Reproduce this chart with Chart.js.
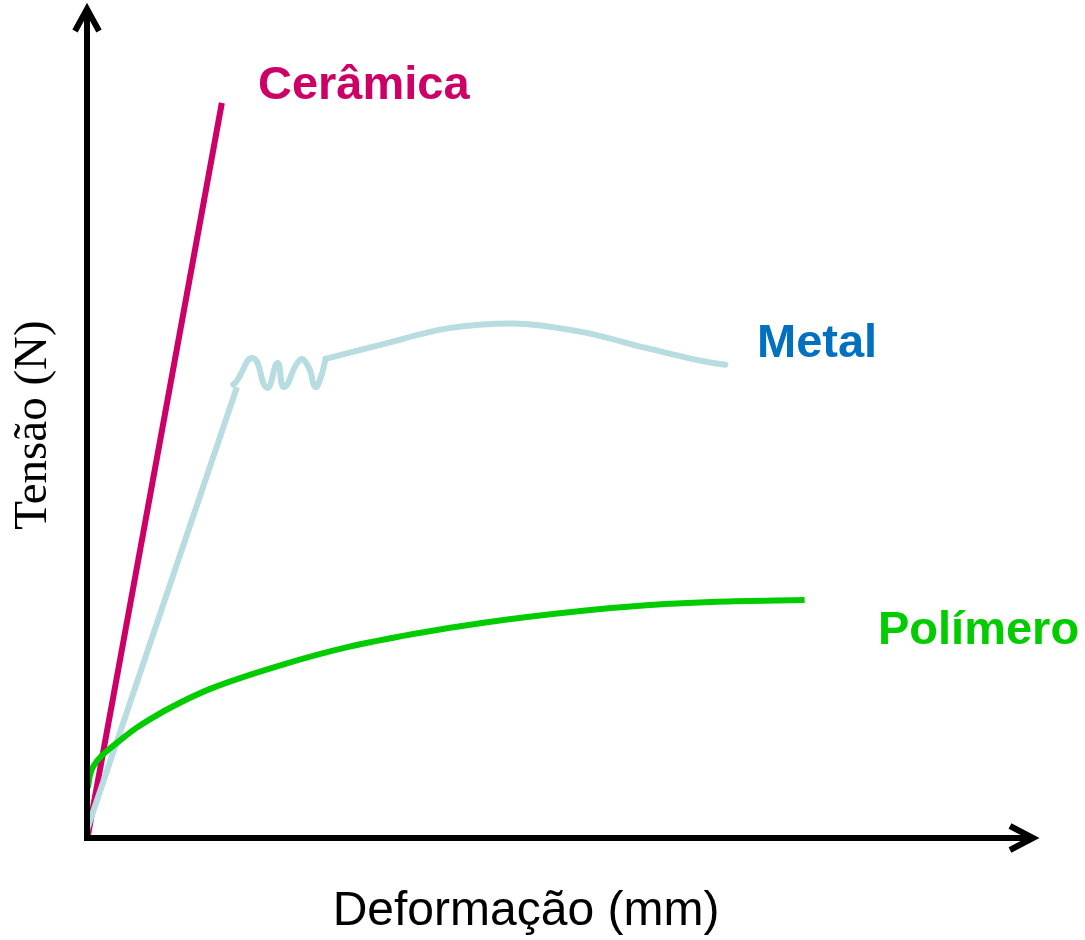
<!DOCTYPE html>
<html>
<head>
<meta charset="utf-8">
<script src="https://cdn.jsdelivr.net/npm/chart.js@4"></script>
<style>
  body { margin: 0; background: #fff; }
  #wrap { width: 1085px; height: 940px; }
</style>
</head>
<body>
<div id="wrap"><canvas id="grafico"></canvas></div>
<script>
// curvas tensão x deformação (unidades arbitrárias, 0-100)
var ceramicaX = [0, 14.3];
var ceramicaY = [-0.3, 89.0];

var metalElasticoX = [0, 15.9];
var metalElasticoY = [1.0, 54.6];

// escoamento (serrilhado)
var metalEscoamentoX = [15.5, 15.8, 17.6, 19.1, 20.2, 20.9, 22.6, 23.5, 24.2, 24.8, 25.3];
var metalEscoamentoY = [54.9, 55.2, 58.1, 54.5, 57.5, 54.6, 57.9, 57.0, 54.6, 55.8, 58.0];

// encruamento / estricção
var metalPlasticoX = [25.3, 31.1, 38.2, 45.2, 52.3, 59.4, 66.4, 67.7];
var metalPlasticoY = [58.0, 59.7, 61.7, 62.3, 61.3, 59.3, 57.5, 57.3];

var polimeroX = [0.1, 0.3, 0.8, 1.6, 2.6, 3.8, 5.2, 6.7, 9.9, 13.4, 20.5, 27.6, 34.6, 41.7, 52.6, 59.7, 66.8, 76.1];
var polimeroY = [6.1, 7.6, 8.9, 10.0, 11.0, 12.1, 13.3, 14.4, 16.4, 18.2, 20.9, 23.1, 24.7, 26.0, 27.5, 28.2, 28.6, 28.8];

function pontos(xs, ys) {
    return xs.map(function (x, i) { return { x: x, y: ys[i] }; });
}

// eixos com setas + textos
var eixosPlugin = {
    id: 'eixos',
    afterDatasetsDraw: function (chart) {
        var c = chart.ctx;
        var a = chart.chartArea;
        var x0 = a.left, y0 = a.bottom;
        c.save();
        c.strokeStyle = '#000';
        c.lineWidth = 6;
        c.lineCap = 'butt';
        c.beginPath();
        c.moveTo(x0, y0 + 3);
        c.lineTo(x0, a.top - 2);
        c.moveTo(x0 - 3, y0);
        c.lineTo(a.right + 3, y0);
        c.stroke();
        // pontas das setas
        c.lineJoin = 'miter';
        c.beginPath();
        c.moveTo(x0 - 12, a.top + 19);
        c.lineTo(x0, a.top - 3);
        c.lineTo(x0 + 12, a.top + 19);
        c.moveTo(a.right - 20, y0 - 12);
        c.lineTo(a.right + 3, y0);
        c.lineTo(a.right - 20, y0 + 12);
        c.stroke();

        // nomes das curvas
        c.font = 'bold 47px "Liberation Sans", Arial, sans-serif';
        c.textBaseline = 'alphabetic';
        c.textAlign = 'left';
        c.fillStyle = '#CC0066';
        c.fillText('Cerâmica', 258, 99);
        c.fillStyle = '#0070C0';
        c.fillText('Metal', 757, 357);
        c.fillStyle = '#00CC00';
        c.fillText('Polímero', 878, 644);

        // títulos dos eixos
        c.fillStyle = '#000';
        c.font = '48px "Liberation Sans", Arial, sans-serif';
        c.textAlign = 'center';
        c.textBaseline = 'middle';
        c.fillText('Deformação (mm)', 526, 912);
        c.translate(34, 425);
        c.rotate(-Math.PI / 2);
        c.font = '47px "Liberation Serif", "Times New Roman", serif';
        c.fillText('Tensão (N)', 0, 0);
        c.restore();
    }
};

var ctx = document.getElementById('grafico').getContext('2d');
var grafico = new Chart(ctx, {
    type: 'scatter',
    data: {
        datasets: [{
            label: 'Polímero',
            data: pontos(polimeroX, polimeroY),
            borderColor: '#00CC00',
            borderWidth: 6,
            showLine: true,
            cubicInterpolationMode: 'monotone',
            pointRadius: 0
        }, {
            label: 'Metal',
            data: pontos(metalElasticoX, metalElasticoY),
            borderColor: '#B7DDE0',
            borderWidth: 6,
            showLine: true,
            tension: 0,
            pointRadius: 0
        }, {
            label: 'Metal (escoamento)',
            data: pontos(metalEscoamentoX, metalEscoamentoY),
            borderColor: '#B7DDE0',
            borderWidth: 6,
            borderCapStyle: 'round',
            borderJoinStyle: 'round',
            showLine: true,
            tension: 0.5,
            pointRadius: 0
        }, {
            label: 'Metal (plástico)',
            data: pontos(metalPlasticoX, metalPlasticoY),
            borderColor: '#B7DDE0',
            borderWidth: 6,
            borderCapStyle: 'round',
            showLine: true,
            cubicInterpolationMode: 'monotone',
            pointRadius: 0
        }, {
            label: 'Cerâmica',
            data: pontos(ceramicaX, ceramicaY),
            borderColor: '#CC0066',
            borderWidth: 6,
            showLine: true,
            tension: 0,
            pointRadius: 0
        }]
    },
    options: {
        responsive: true,
        maintainAspectRatio: false,
        animation: false,
        layout: {
            padding: { left: 87, right: 55, top: 12, bottom: 102 }
        },
        scales: {
            x: { type: 'linear', min: 0, max: 100, display: false },
            y: { type: 'linear', min: 0, max: 100, display: false }
        },
        plugins: {
            legend: { display: false },
            tooltip: { enabled: false }
        },
        elements: {
            line: { capBezierPoints: false }
        },
        clip: false
    },
    plugins: [eixosPlugin]
});
</script>
</body>
</html>
